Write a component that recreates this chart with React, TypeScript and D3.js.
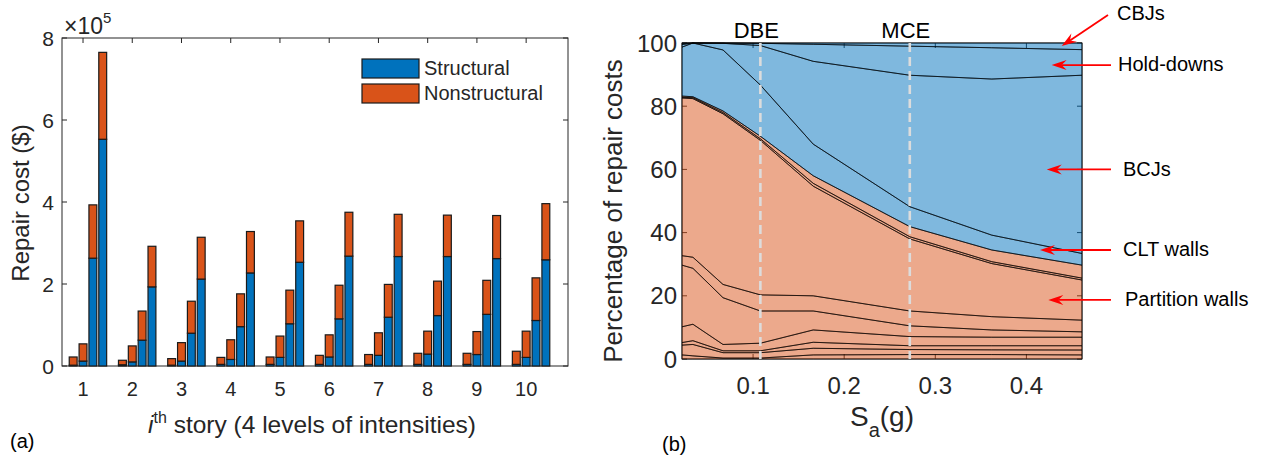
import React from 'react';
import * as d3 from 'd3';

// ---- (a) repair cost per story, 4 intensity levels (values in 1e5 $) ----
const stories = [1, 2, 3, 4, 5, 6, 7, 8, 9, 10];
const structural = [
  [0.02, 0.03, 0.02, 0.04, 0.04, 0.04, 0.04, 0.04, 0.04, 0.04],
  [0.12, 0.10, 0.12, 0.16, 0.21, 0.22, 0.26, 0.29, 0.28, 0.21],
  [2.63, 0.63, 0.80, 0.96, 1.03, 1.15, 1.19, 1.23, 1.26, 1.11],
  [5.53, 1.93, 2.12, 2.27, 2.53, 2.68, 2.67, 2.67, 2.62, 2.59],
];
const nonstructural = [
  [0.20, 0.11, 0.16, 0.17, 0.18, 0.22, 0.24, 0.27, 0.27, 0.32],
  [0.42, 0.39, 0.45, 0.48, 0.52, 0.54, 0.55, 0.56, 0.56, 0.64],
  [1.30, 0.71, 0.78, 0.80, 0.82, 0.82, 0.80, 0.84, 0.83, 1.04],
  [2.12, 0.99, 1.02, 1.01, 1.01, 1.07, 1.03, 1.01, 1.05, 1.37],
];
const costTicks = [0, 2, 4, 6, 8];

// ---- (b) share of repair cost per component vs Sa ----
const saValues = [0.022, 0.034, 0.067, 0.108, 0.166, 0.272, 0.362, 0.461];
const ns1 = [1.3, 1.0, 0.3, 0.3, 1.3, 1.4, 1.4, 1.3];
const ns2 = [3.1, 3.6, 1.7, 1.7, 2.1, 1.6, 1.5, 1.55];
const ns3 = [0.8, 1.2, 0.6, 0.6, 1.9, 1.2, 1.3, 1.35];
const ns4 = [5.0, 5.2, 2.0, 2.4, 3.9, 2.9, 2.7, 2.7];
const ns5 = [19.5, 17.7, 14.8, 10.2, 6.0, 3.4, 2.3, 1.7];
const ns6 = [3.0, 3.5, 4.2, 5.1, 4.8, 4.7, 4.2, 3.7];
const partitionWalls = [49.9, 50.2, 54.0, 48.9, 34.7, 22.8, 16.8, 12.7];
const ns8 = [0.2, 0.3, 0.4, 0.5, 0.9, 0.7, 0.6, 0.6];
const ns9 = [0.4, 0.3, 0.5, 0.8, 2.4, 3.2, 3.7, 4.1];
const cltWalls = [15.5, 17.0, 19.3, 16.2, 10.0, 6.3, 4.7, 3.7];
const bcjs = [0.8, 0.0, 2.1, 12.5, 26.2, 41.6, 49.4, 56.4];
const holdDowns = [0.4, 0.0, 0.1, 0.7, 5.4, 9.2, 9.9, 8.1];
const cbjs = [0.1, 0.0, 0.0, 0.1, 0.4, 1.0, 1.5, 2.1];

const layers = {
  ns1, ns2, ns3, ns4, ns5, ns6, partitionWalls, ns8, ns9,
  cltWalls, bcjs, holdDowns, cbjs,
};
const structuralLayers = ['cltWalls', 'bcjs', 'holdDowns', 'cbjs'];
const hazardLevels = [
  { label: 'DBE', sa: 0.108 },
  { label: 'MCE', sa: 0.272 },
];
const callouts = [
  { label: 'CBJs', sa: 0.4387, pct: 99.05 },
  { label: 'Hold-downs', sa: 0.4277, pct: 93.0 },
  { label: 'BCJs', sa: 0.4223, pct: 60.0 },
  { label: 'CLT walls', sa: 0.4149, pct: 34.5 },
  { label: 'Partition walls', sa: 0.424, pct: 18.7 },
];

const FONT = '"Liberation Sans", Arial, Helvetica, sans-serif';
const AX = '#262626';
const BLUE = '#0072BD';
const ORANGE = '#D95319';

function BarPanel() {
  const x = d3.scaleLinear().domain([0.573, 10.85]).range([62, 568]);
  const y = d3.scaleLinear().domain([0, 8]).range([366, 38]);
  const bw = x(0.16) - x(0);

  const rows = [];
  structural.forEach((lvl, j) => {
    lvl.forEach((s, i) => {
      rows.push({ pos: stories[i] + (j - 1) * 0.2, structural: s, nonstructural: nonstructural[j][i] });
    });
  });
  const stacked = d3.stack().keys(['structural', 'nonstructural'])(rows);

  return (
    <g fontFamily={FONT}>
      {/* axes box */}
      <rect x={62} y={38} width={506} height={328} fill="none" stroke={AX} strokeWidth={1} />
      {stories.map((s) => (
        <g key={s}>
          <line x1={x(s)} x2={x(s)} y1={366} y2={361} stroke={AX} />
          <line x1={x(s)} x2={x(s)} y1={38} y2={43} stroke={AX} />
          <text x={x(s)} y={396} textAnchor="middle" fontSize={20} fill={AX}>{s}</text>
        </g>
      ))}
      {costTicks.map((t) => (
        <g key={t}>
          <line x1={62} x2={67} y1={y(t)} y2={y(t)} stroke={AX} />
          <line x1={568} x2={563} y1={y(t)} y2={y(t)} stroke={AX} />
          <text x={54} y={y(t)} dy="0.36em" textAnchor="end" fontSize={21} fill={AX}>{t}</text>
        </g>
      ))}
      <text x={64} y={34} fontSize={23} fill={AX}>×10<tspan fontSize={15} dy={-11}>5</tspan></text>

      {stacked.map((series) => (
        <g key={series.key} fill={series.key === 'structural' ? BLUE : ORANGE}>
          {series.map((d, i) => (
            <rect key={i} x={x(d.data.pos) - bw / 2} y={y(d[1])} width={bw}
              height={y(d[0]) - y(d[1])} stroke="#1a1a1a" strokeWidth={1.2} />
          ))}
        </g>
      ))}

      {/* legend */}
      <rect x={362} y={59} width={57} height={19} fill={BLUE} stroke="#1a1a1a" strokeWidth={1.2} />
      <rect x={362} y={84} width={57} height={19} fill={ORANGE} stroke="#1a1a1a" strokeWidth={1.2} />
      <text x={424} y={68} dy="0.36em" fontSize={20} fill={AX}>Structural</text>
      <text x={424} y={93} dy="0.36em" fontSize={20} fill={AX}>Nonstructural</text>

      <text transform="translate(29,203) rotate(-90)" textAnchor="middle" fontSize={24} fill={AX}>Repair cost ($)</text>
      <text x={312} y={433} textAnchor="middle" fontSize={24.5} fill={AX}>
        <tspan fontStyle="italic">i</tspan>
        <tspan fontSize={16} dy={-10}>th</tspan>
        <tspan dy={10}> story (4 levels of intensities)</tspan>
      </text>
      <text x={10} y={448} fontSize={20} fill="#000">(a)</text>
    </g>
  );
}

function AreaPanel() {
  const x = d3.scaleLinear().domain([saValues[0], saValues[saValues.length - 1]]).range([682, 1082]);
  const y = d3.scaleLinear().domain([0, 100]).range([359, 43]);
  const keys = Object.keys(layers);
  const rows = saValues.map((sa, i) => {
    const r = { sa };
    keys.forEach((k) => { r[k] = layers[k][i]; });
    return r;
  });
  const series = d3.stack().keys(keys)(rows);
  const area = d3.area().x((d) => x(d.data.sa)).y0((d) => y(d[0])).y1((d) => y(d[1]));
  const xt = x.ticks(4);
  const yt = y.ticks(5);

  return (
    <g fontFamily={FONT}>
      {/* axes box (lies beneath translucent fill) */}
      <rect x={682} y={43} width={400} height={316} fill="none" stroke={AX} />
      {xt.map((t) => (
        <g key={t}>
          <line x1={x(t)} x2={x(t)} y1={359} y2={354} stroke={AX} />
          <line x1={x(t)} x2={x(t)} y1={43} y2={48} stroke={AX} />
          <text x={x(t)} y={394} textAnchor="middle" fontSize={24} fill={AX}>{t.toFixed(1)}</text>
        </g>
      ))}
      {yt.map((t) => (
        <g key={t}>
          <line x1={682} x2={687} y1={y(t)} y2={y(t)} stroke={AX} />
          <line x1={1082} x2={1077} y1={y(t)} y2={y(t)} stroke={AX} />
          <text x={677} y={y(t)} dy="0.36em" textAnchor="end" fontSize={24} fill={AX}>{t}</text>
        </g>
      ))}

      {series.map((s) => (
        <path key={s.key} d={area(s)}
          fill={structuralLayers.includes(s.key) ? BLUE : ORANGE} fillOpacity={0.5}
          stroke="#000" strokeOpacity={0.75} strokeWidth={0.9} strokeLinejoin="round" />
      ))}

      {hazardLevels.map((h) => (
        <g key={h.label}>
          <line x1={x(h.sa)} x2={x(h.sa)} y1={43} y2={359} stroke="#DCDCDC" strokeWidth={2.6}
            strokeDasharray="9,5" />
          <text x={x(h.sa) - 4} y={38} textAnchor="middle" fontSize={22} fill="#000">{h.label}</text>
        </g>
      ))}

      {callouts.map((c, i) => {
        const tx = x(c.sa);
        const ty = y(c.pct);
        const top = i === 0;
        const sx = top ? 1108 : 1111;
        const sy = top ? 15 : ty;
        const ang = Math.atan2(ty - sy, tx - sx);
        const hl = 15;
        const hw = 5;
        const bx = tx - hl * Math.cos(ang);
        const by = ty - hl * Math.sin(ang);
        const nx = tx - 10 * Math.cos(ang);
        const ny = ty - 10 * Math.sin(ang);
        const px = -Math.sin(ang);
        const py = Math.cos(ang);
        const head = `${tx},${ty} ${bx + px * hw},${by + py * hw} ${nx},${ny} ${bx - px * hw},${by - py * hw}`;
        const lx = top ? 1117 : c.label === 'Hold-downs' ? 1118 : c.label === 'Partition walls' ? 1125 : 1123;
        return (
          <g key={c.label}>
            <line x1={sx} y1={sy} x2={nx} y2={ny} stroke="#FF0000" strokeWidth={1.8} />
            <polygon points={head} fill="#FF0000" />
            <text x={lx} y={top ? 13 : ty - 1} dy="0.36em" fontSize={20} fill="#000">{c.label}</text>
          </g>
        );
      })}

      <text transform="translate(622,211) rotate(-90)" textAnchor="middle" fontSize={26} fill={AX}>Percentage of repair costs</text>
      <text x={882} y={426} textAnchor="middle" fontSize={28} fill={AX}>
        S<tspan fontSize={20} dy={11}>a</tspan><tspan dy={-11}>(g)</tspan>
      </text>
      <text x={662} y={451} fontSize={20} fill="#000">(b)</text>
    </g>
  );
}

export default function App() {
  return (
    <svg width={1263} height={461} style={{ position: 'absolute', left: 0, top: 0, background: '#fff' }}>
      <rect width={1263} height={461} fill="#fff" />
      <BarPanel />
      <AreaPanel />
    </svg>
  );
}
